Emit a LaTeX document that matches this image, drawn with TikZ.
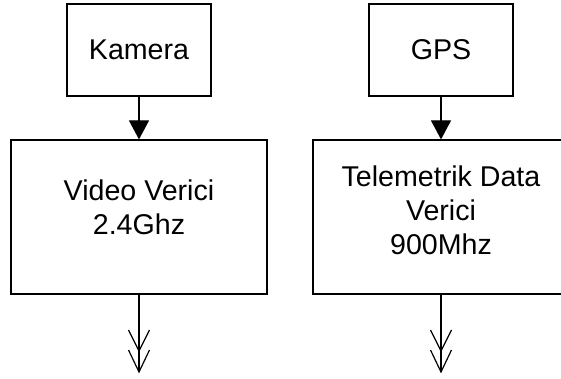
\documentclass[tikz,border=0pt]{standalone}
\usepackage{fontspec}
\setmainfont{Liberation Sans}
\usetikzlibrary{arrows.meta}
\begin{document}
\begin{tikzpicture}[x=1pt,y=-1pt,
  box/.style={draw=black, line width=1.2pt, inner sep=0pt, align=center,
    font=\fontsize{28.6}{34}\selectfont},
  feed/.style={line width=1.2pt, -{Triangle[length=19pt,width=20pt]}},
  barb/.style={line width=1.2pt, line join=miter}]
\useasboundingbox (0,0) rectangle (561,379);
\node[box, minimum width=144pt, minimum height=92pt] (kam) at (139,50) {Kamera};
\node[box, minimum width=144pt, minimum height=92pt] (gps) at (441,50) {GPS};
\node[box, minimum width=256pt, minimum height=154pt, text depth=20pt] (vid) at (139,217) {Video Verici\\2.4Ghz};
\node[box, minimum width=256pt, minimum height=154pt, text depth=14pt] (tel) at (441,217) {Telemetrik Data\\Verici\\900Mhz};
\draw[feed] (kam.south) -- (vid.north);
\draw[feed] (gps.south) -- (tel.north);
\coordinate (vend) at (139,372);
\coordinate (tend) at (441,372);
\foreach \e/\s in {vend/vid, tend/tel}{
  \draw[barb] (\s.south) -- (\e);
  \draw[barb] ([shift={(-10.5,-22)}]\e) -- (\e) -- ([shift={(10.5,-22)}]\e);
  \draw[barb] ([shift={(-10.5,-42)}]\e) -- ([shift={(0,-21)}]\e) -- ([shift={(10.5,-42)}]\e);
}
\end{tikzpicture}
\end{document}
